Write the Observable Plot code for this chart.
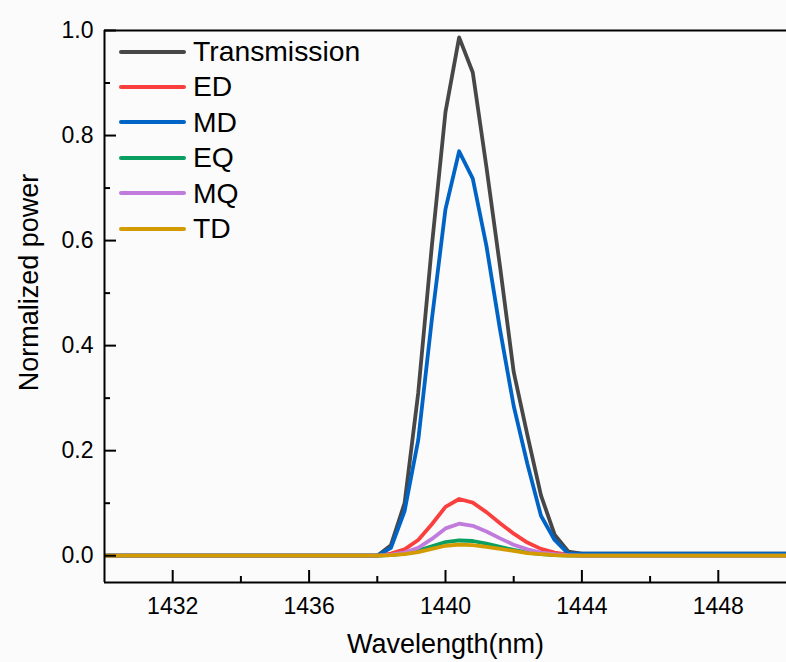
<!DOCTYPE html>
<html>
<head>
<meta charset="utf-8">
<script src="https://cdn.jsdelivr.net/npm/d3@7"></script>
<script src="https://cdn.jsdelivr.net/npm/@observablehq/plot@0.6"></script>
<style>
  html, body { margin: 0; padding: 0; background: #fbfbfb; }
  #wrap { position: relative; width: 786px; height: 662px; font-family: "Liberation Sans", Arial, sans-serif; }
  #legend { position: absolute; left: 119px; top: 34px; }
  .row { display: flex; align-items: center; height: 35.4px; }
  .sw { width: 67px; height: 4px; border-radius: 2px; margin-right: 7px; }
  .lab { font-size: 28.3px; color: #000; line-height: 35.4px; }
</style>
</head>
<body>
<div id="wrap"></div>
<script>
// ---- data ----
const wavelength = [1430, 1438.0, 1438.4, 1438.8, 1439.2, 1439.6, 1440.0, 1440.4, 1440.8, 1441.2, 1441.6, 1442.0, 1442.4, 1442.8, 1443.2, 1443.6, 1444.0, 1450];
const transmission = [0, 0, 0.02, 0.10, 0.31, 0.59, 0.845, 0.987, 0.92, 0.74, 0.55, 0.35, 0.23, 0.115, 0.04, 0.008, 0.004, 0.004];
const ED = [0, 0, 0.004, 0.012, 0.030, 0.060, 0.093, 0.108, 0.101, 0.083, 0.062, 0.042, 0.025, 0.013, 0.006, 0.002, 0, 0];
const MD = [0, 0, 0.015, 0.085, 0.22, 0.45, 0.66, 0.77, 0.718, 0.59, 0.43, 0.285, 0.175, 0.076, 0.03, 0.004, 0.004, 0.004];
const EQ = [0, 0, 0.001, 0.004, 0.010, 0.018, 0.026, 0.029, 0.028, 0.023, 0.017, 0.011, 0.006, 0.003, 0.001, 0, 0, 0];
const MQ = [0, 0, 0.002, 0.006, 0.015, 0.032, 0.052, 0.061, 0.057, 0.046, 0.033, 0.021, 0.012, 0.006, 0.003, 0.001, 0, 0];
const TD = [0, 0, 0.001, 0.003, 0.007, 0.013, 0.019, 0.021, 0.020, 0.017, 0.013, 0.009, 0.005, 0.003, 0.001, 0, 0, 0];

const seriesNames = ["Transmission", "ED", "MD", "EQ", "MQ", "TD"];
const seriesValues = [transmission, ED, MD, EQ, MQ, TD];
const seriesColors = ["#474747", "#fa3f3f", "#0063c6", "#0a9f60", "#c07bdc", "#d39b00"];

const xDomain = [1430, 1450];
const yDomain = [-0.051, 1.0];
const xMajor = [1432, 1436, 1440, 1444, 1448];
const xMinor = [1434, 1438, 1442, 1446];
const yMajor = [0, 0.2, 0.4, 0.6, 0.8, 1.0];
const yMinor = [0.1, 0.3, 0.5, 0.7, 0.9];
const xLabel = "Wavelength(nm)";
const yLabel = "Normalized power";

const rows = [];
seriesNames.forEach((name, s) => {
  wavelength.forEach((w, i) => rows.push({series: name, wl: w, v: seriesValues[s][i]}));
});

const font = '"Liberation Sans", Arial, sans-serif';

const chart = Plot.plot({
  width: 786,
  height: 662,
  marginLeft: 104,
  marginRight: 0,
  marginTop: 30,
  marginBottom: 80,
  style: {fontFamily: font, fontSize: "23px", background: "transparent", color: "#000", overflow: "visible"},
  x: {domain: xDomain},
  y: {domain: yDomain},
  color: {domain: seriesNames, range: seriesColors},
  marks: [
    Plot.lineY(rows, {x: "wl", y: "v", z: "series", stroke: "series", strokeWidth: 3.8, strokeLinejoin: "round", strokeLinecap: "butt"}),
    // frame lines
    Plot.ruleX([xDomain[0]], {stroke: "#000", strokeWidth: 2}),
    Plot.ruleY([yDomain[0]], {stroke: "#000", strokeWidth: 2}),
    Plot.ruleY([yDomain[1]], {stroke: "#000", strokeWidth: 2}),
    // x axis
    Plot.axisX({ticks: xMajor, tickSize: 0, tickPadding: 15, tickFormat: d => String(d), label: null, fontSize: 23}),
    Plot.axisX({ticks: xMajor, tickSize: -12, fill: "none", label: null, strokeWidth: 2, stroke: "#000"}),
    Plot.axisX({ticks: xMinor, tickSize: -6, fill: "none", label: null, strokeWidth: 2, stroke: "#000"}),
    // y axis
    Plot.axisY({ticks: yMajor, tickSize: 0, tickPadding: 11, tickFormat: d3.format(".1f"), label: null, fontSize: 23}),
    Plot.axisY({ticks: yMajor, tickSize: -12, fill: "none", label: null, strokeWidth: 2, stroke: "#000"}),
    Plot.axisY({ticks: yMinor, tickSize: -6, fill: "none", label: null, strokeWidth: 2, stroke: "#000"}),
    // axis titles
    Plot.text([xLabel], {frameAnchor: "bottom", dy: 51, lineAnchor: "top", textAnchor: "middle", fontSize: 27, fill: "#000"}),
    Plot.text([yLabel], {frameAnchor: "left", rotate: -90, dx: -75, dy: -24, lineAnchor: "middle", textAnchor: "middle", fontSize: 27, fill: "#000"})
  ]
});

const wrap = document.getElementById("wrap");
wrap.appendChild(chart);

const legend = document.createElement("div");
legend.id = "legend";
seriesNames.forEach((name, i) => {
  const row = document.createElement("div");
  row.className = "row";
  const sw = document.createElement("div");
  sw.className = "sw";
  sw.style.background = seriesColors[i];
  const lab = document.createElement("span");
  lab.className = "lab";
  lab.textContent = name;
  row.appendChild(sw);
  row.appendChild(lab);
  legend.appendChild(row);
});
wrap.appendChild(legend);
</script>
</body>
</html>
